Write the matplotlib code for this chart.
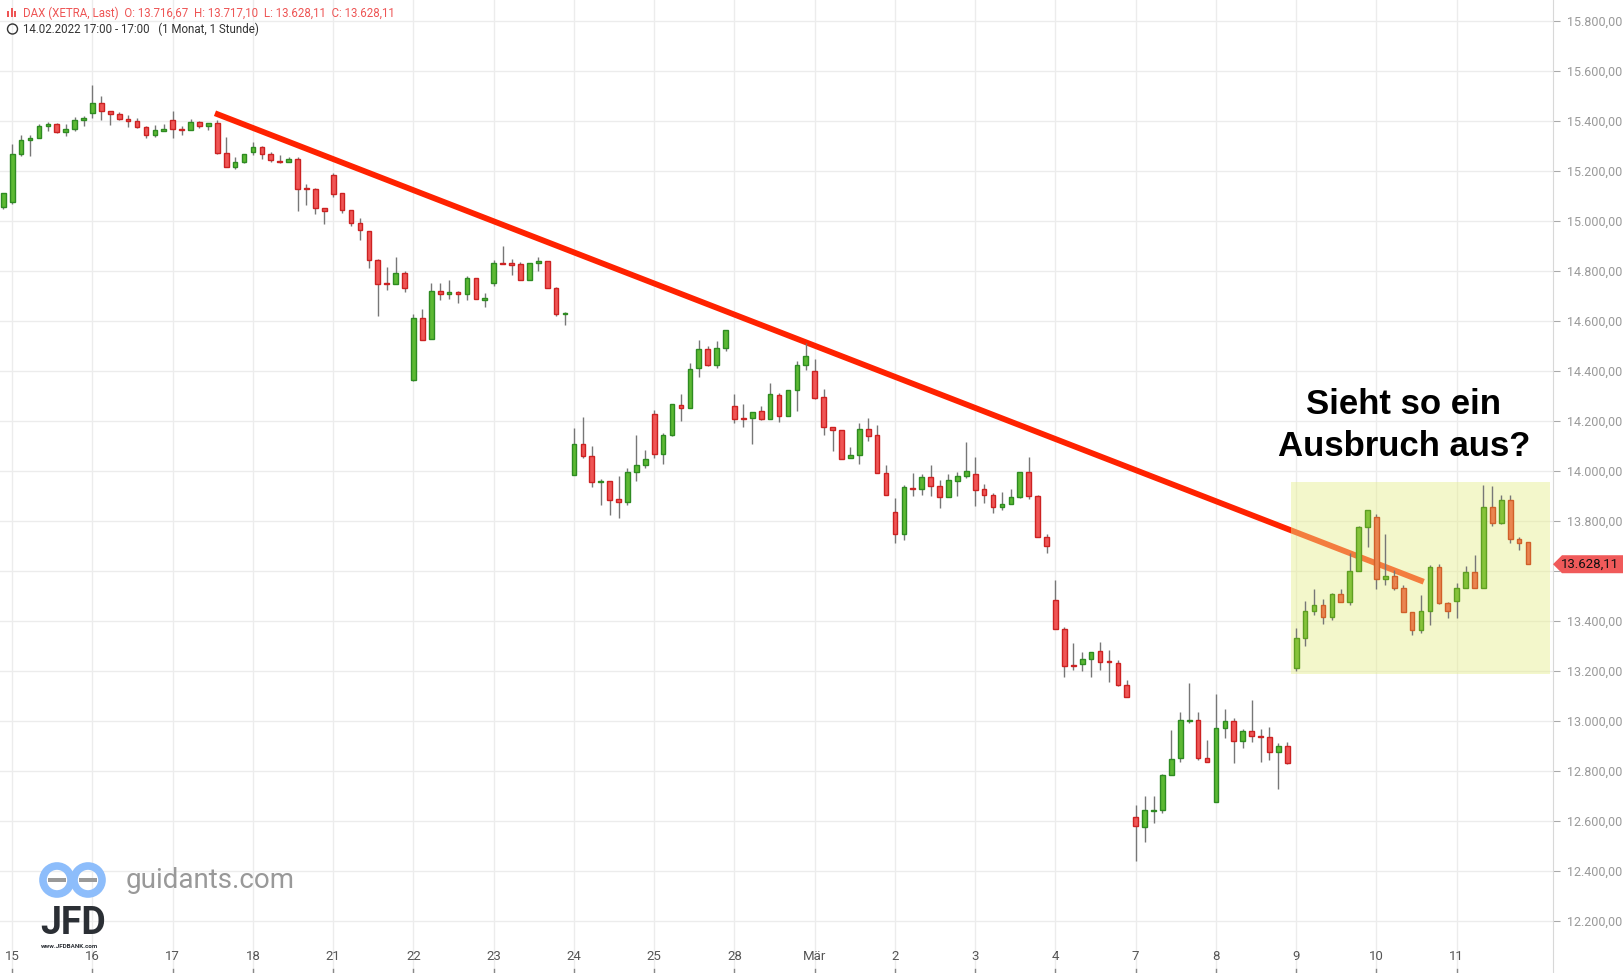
import matplotlib
matplotlib.use("Agg")
import matplotlib.pyplot as plt
from matplotlib.patches import Rectangle, Ellipse, Polygon
from matplotlib.transforms import blended_transform_factory
import numpy as np

opens = [15058,15078,15269,15325,15332,15380,15388,15356,15368,15404,
15432,15472,15440,15428,15408,15400,15376,15344,15360,15404,
15368,15364,15396,15380,15392,15273,15217,15237,15277,15297,
15269,15241,15237,15249,15130,15130,15054,15185,15114,15046,
14995,14963,14844,14752,14748,14792,14364,14612,14528,14720,
14708,14716,14708,14772,14684,14752,14832,14832,14828,14764,
14832,14840,14732,14628,13984,14108,14060,13956,13960,13888,
13876,13996,14024,14228,14068,14144,14264,14252,14412,14488,
14424,14492,14260,14212,14212,14240,14208,14304,14220,14326,
14426,14402,14299,14176,14164,14053,14065,14168,14144,13993,
13839,13751,13934,13930,13977,13942,13898,13962,13981,13989,
13930,13906,13859,13870,13898,13997,13902,13736,13486,13371,
13224,13228,13251,13282,13239,13235,13144,12616,12577,12642,
12644,12787,12854,13003,13005,12854,12676,12973,13001,12922,
12961,12941,12937,12878,12902,13215,13334,13441,13465,13417,
13508,13477,13600,13778,13818,13568,13580,13532,13437,13366,
13441,13619,13473,13481,13532,13596,13532,13856,13795,13884,
13728,13716.67]
closes = [15114,15269,15325,15332,15380,15388,15356,15368,15404,15412,
15472,15440,15428,15408,15400,15376,15344,15364,15368,15368,
15364,15396,15380,15392,15273,15217,15237,15269,15297,15269,
15245,15237,15249,15130,15128,15054,15042,15110,15046,14995,
14967,14844,14748,14748,14792,14732,14612,14524,14720,14708,
14716,14708,14772,14688,14692,14832,14829,14826,14764,14832,
14840,14732,14628,14630,14108,14060,13956,13956,13884,13876,
13996,14024,14048,14068,14144,14268,14252,14408,14488,14424,
14492,14564,14208,14208,14236,14208,14308,14220,14324,14426,
14461,14295,14176,14164,14049,14065,14168,14140,13993,13906,
13751,13938,13930,13977,13942,13898,13966,13981,14001,13926,
13906,13859,13870,13898,13997,13902,13736,13700,13371,13220,
13220,13248,13278,13239,13237,13144,13096,12581,12644,12644,
12787,12850,13005,13005,12854,12838,12973,13001,12922,12961,
12941,12937,12878,12902,12834,13334,13441,13465,13417,13508,
13477,13600,13778,13846,13568,13580,13532,13437,13366,13441,
13619,13473,13441,13532,13596,13532,13856,13795,13884,13728,
13712,13628.11]
highs = [15114,15310,15346,15346,15389,15397,15392,15389,15416,15420,
15544,15501,15440,15436,15424,15412,15380,15384,15388,15440,
15380,15408,15400,15392,15404,15336,15257,15269,15318,15301,
15277,15265,15257,15257,15150,15134,15054,15193,15114,15046,
15015,14963,14848,14816,14856,14800,14628,14648,14752,14752,
14764,14720,14780,14772,14712,14844,14900,14848,14836,14832,
14856,14840,14736,14636,14172,14216,14100,13968,13960,13980,
14012,14144,14084,14244,14152,14268,14308,14432,14524,14500,
14520,14564,14308,14268,14236,14260,14352,14312,14324,14441,
14513,14449,14330,14176,14164,14096,14192,14215,14184,14025,
13894,13946,13993,13989,14025,13966,13989,13997,14116,14057,
13950,13914,13918,13930,13997,14057,13906,13751,13565,13379,
13315,13276,13278,13318,13286,13247,13167,12664,12700,12703,
12791,12965,13037,13152,13037,12926,13108,13049,13013,12969,
13084,12969,12977,12914,12918,13374,13481,13528,13489,13512,
13528,13675,13782,13846,13830,13750,13604,13544,13437,13505,
13627,13631,13477,13552,13623,13667,13945,13940,13904,13904,
13736,13717.10]
lows = [15048,15069,15260,15260,15332,15363,15352,15343,15360,15380,
15412,15407,15384,15404,15376,15372,15332,15336,15360,15332,
15344,15364,15372,15364,15269,15217,15209,15233,15265,15249,
15237,15233,15237,15042,15066,15030,14991,15098,15034,14981,
14927,14812,14621,14725,14748,14716,14360,14524,14528,14684,
14688,14672,14684,14688,14656,14740,14828,14786,14764,14764,
14800,14732,14620,14586,13984,14052,13936,13864,13824,13812,
13864,13960,14012,14052,14028,14140,14200,14252,14376,14420,
14412,14480,14192,14176,14108,14204,14208,14196,14220,14243,
14406,14291,14144,14081,14049,14053,14029,14120,13993,13906,
13712,13724,13902,13906,13902,13855,13898,13902,13973,13863,
13874,13835,13847,13870,13894,13890,13736,13672,13371,13176,
13204,13200,13179,13207,13159,13140,13096,12441,12517,12593,
12632,12787,12838,12993,12846,12838,12676,12933,12834,12894,
12918,12838,12846,12731,12830,13203,13302,13425,13389,13405,
13477,13465,13600,13699,13528,13544,13524,13437,13346,13354,
13385,13469,13413,13413,13532,13532,13532,13780,13791,13715,
13684,13628.11]

day_labels = ["15","16","17","18","21","22","23","24","25","28","Mär",
              "2","3","4","7","8","9","10","11"]
bars_per_day = 9
price_ticks = list(range(12200, 15801, 200))
trend_x = [23.74, 159.3]
trend_y = [15432, 13558]
box_x = [144.4, 173.5]
box_y = [13190, 13958]
box_start = 145
last_price = 13628.11

W, H = 1623, 973
fig = plt.figure(figsize=(W/100, H/100), dpi=100)
fig.patch.set_facecolor("white")
ax = fig.add_axes([0, 0, 1553/W, 1])
ax.set_xlim(-0.37, 173.8)
ax.set_ylim(11993, 15885)
ax.set_facecolor("white")

for s in ["top", "left", "bottom"]:
    ax.spines[s].set_visible(False)
ax.spines["right"].set_color("#d8d8d8")

def fmt(p):
    return f"{p:,.2f}".replace(",", "X").replace(".", ",").replace("X", ".")

ax.yaxis.tick_right()
ax.set_yticks(price_ticks)
# the 13.600 label is hidden behind the last-price marker in the reference
ax.set_yticklabels(["" if abs(p - last_price) < 60 else fmt(p) for p in price_ticks])
ax.tick_params(axis="y", length=5, color="#aaaaaa", labelcolor="#999999",
               labelsize=9, pad=5)
for t in ax.get_yticklabels():
    t.set_fontfamily("Roboto")

day_idx = [1 + bars_per_day*k for k in range(len(day_labels))]
ax.set_xticks(day_idx)
ax.set_xticklabels([])
ax.tick_params(axis="x", length=0)
ax.grid(True, color="#ececec", linewidth=1)
ax.set_axisbelow(True)

trx = blended_transform_factory(ax.transData, ax.transAxes)
for i, lab in zip(day_idx, day_labels):
    ax.text(i, 0.0105, lab, transform=trx, ha="center", va="bottom",
            fontsize=9.5, color="#555555", fontfamily="Roboto")
    ax.plot([i, i], [0, 0.004], transform=trx, color="#888888", lw=1)

ax.plot(trend_x, trend_y, color="#ff2200", lw=4.2, solid_capstyle="butt", zorder=2)
ax.add_patch(Rectangle((box_x[0], box_y[0]), box_x[1]-box_x[0], box_y[1]-box_y[0],
                       facecolor="#e6ee8c", alpha=0.45, edgecolor="none", zorder=3))

x = np.arange(len(opens))
o = np.array(opens); c = np.array(closes); h = np.array(highs); l = np.array(lows)
up = c >= o
inbox = x >= box_start
ax.vlines(x, l, h, color="#777777", lw=1, zorder=4)
fill = np.where(up, np.where(inbox, "#86c43a", "#5cb933"), np.where(inbox, "#ea8550", "#f05555"))
edge = np.where(up, np.where(inbox, "#5e9e22", "#2e8b22"), np.where(inbox, "#d0602a", "#cc2222"))
bottom = np.minimum(o, c)
height = np.maximum(np.abs(c - o), 4)
ax.bar(x, height, bottom=bottom, width=0.52, color=fill, edgecolor=edge, lw=1, zorder=5)

fig.text(1404/W, 1-405/H, "Sieht so ein", ha="center", va="center",
         fontsize=25, fontweight="bold", fontfamily="Liberation Sans", color="black")
fig.text(1404/W, 1-446/H, "Ausbruch aus?", ha="center", va="center",
         fontsize=25, fontweight="bold", fontfamily="Liberation Sans", color="black")

yl = ax.transData.transform((0, last_price))[1]
pts = [(1553, yl), (1562, yl+9), (W, yl+9), (W, yl-9), (1562, yl-9)]
fig.patches.append(Polygon([(px/W, py/H) for px, py in pts], closed=True,
                           transform=fig.transFigure, facecolor="#f05a5a", edgecolor="none"))
fig.text(1590/W, yl/H, "13.628,11", ha="center", va="center", fontsize=9.5,
         color="#111111", fontfamily="Roboto")

fig.text(23/W, 1-13/H, "DAX (XETRA, Last)  O: 13.716,67  H: 13.717,10  L: 13.628,11  C: 13.628,11",
         fontsize=8.3, color="#ee5555", va="center", fontfamily="Roboto")
fig.text(23/W, 1-29/H, "14.02.2022 17:00 - 17:00   (1 Monat, 1 Stunde)",
         fontsize=8.3, color="#333333", va="center", fontfamily="Roboto")
for hx, hh in [(8, 6), (11.5, 9), (15, 6)]:
    fig.patches.append(Rectangle(((hx-1)/W, (H-17)/H), 2/W, hh/H, transform=fig.transFigure,
                                 facecolor="#ee5555", edgecolor="none"))
fig.patches.append(Ellipse((12.5/W, 1-29/H), 10/W, 10/H, transform=fig.transFigure,
                           facecolor="none", edgecolor="#333333", lw=1))

blue = "#8dbdfb"
for cx in [57, 88]:
    fig.patches.append(Ellipse((cx/W, 1-880/H), 28/W, 28/H, transform=fig.transFigure,
                               facecolor="none", edgecolor=blue, lw=5.5))
for cx in [57, 88]:
    fig.patches.append(Rectangle(((cx-9)/W, (H-882)/H), 18/W, 4/H, transform=fig.transFigure,
                                 facecolor="#999999", edgecolor="none"))
fig.text(126/W, 1-881/H, "guidants.com", fontsize=20, color="#999999", va="center",
         fontfamily="Roboto")
fig.text(40/W, 1-924/H, "JFD", fontsize=27, fontweight="bold", color="#2b2f35",
         va="center", fontfamily="Roboto")
fig.text(41/W, 1-947/H, "www.JFDBANK.com", fontsize=4.5, color="#2b2f35",
         va="center", fontfamily="Roboto", fontweight="bold")

fig.savefig("out.png", dpi=100, facecolor="white")
